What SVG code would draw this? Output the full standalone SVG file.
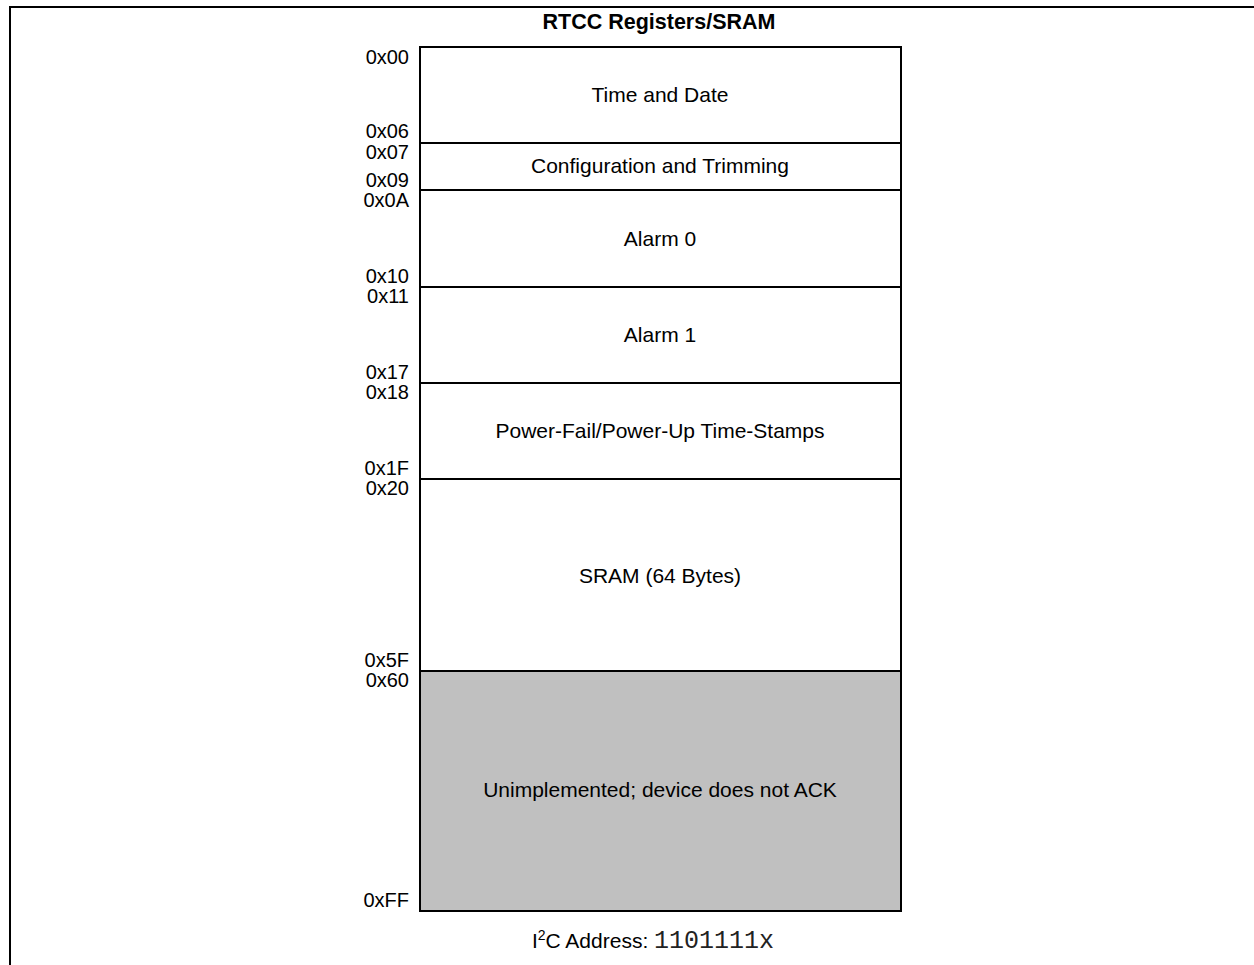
<svg xmlns="http://www.w3.org/2000/svg" width="1254" height="965" viewBox="0 0 1254 965">
<style>
.frame{stroke:#000;stroke-width:2;fill:none}
.blk{stroke:#000;stroke-width:2;fill:#fff}
.gray{fill:#c0c0c0}
.lbl{font-family:"Liberation Sans",Arial,sans-serif;font-size:20px;fill:#000;text-anchor:end}
.txt{font-family:"Liberation Sans",Arial,sans-serif;font-size:21px;fill:#000;text-anchor:middle}
.title{font-family:"Liberation Sans",Arial,sans-serif;font-size:21.5px;font-weight:bold;fill:#000;text-anchor:middle}
.mono{font-family:"Liberation Mono","Courier New",monospace;font-size:25px}
</style>
<rect width="1254" height="965" fill="#fff"/>
<g id="frame">
<path class="frame" d="M10,965 V7 H1254"/>
</g>
<text class="title" x="659" y="29">RTCC Registers/SRAM</text>
<g id="time-date">
<rect class="blk" x="420" y="47" width="481" height="96"/>
<text class="txt" x="660" y="102">Time and Date</text>
<text class="lbl" x="409" y="64">0x00</text>
<text class="lbl" x="409" y="138">0x06</text>
</g>
<g id="config">
<rect class="blk" x="420" y="143" width="481" height="47"/>
<text class="txt" x="660" y="173">Configuration and Trimming</text>
<text class="lbl" x="409" y="159">0x07</text>
<text class="lbl" x="409" y="187">0x09</text>
</g>
<g id="alarm0">
<rect class="blk" x="420" y="190" width="481" height="97"/>
<text class="txt" x="660" y="246">Alarm 0</text>
<text class="lbl" x="409" y="207">0x0A</text>
<text class="lbl" x="409" y="283">0x10</text>
</g>
<g id="alarm1">
<rect class="blk" x="420" y="287" width="481" height="96"/>
<text class="txt" x="660" y="342">Alarm 1</text>
<text class="lbl" x="409" y="303">0x11</text>
<text class="lbl" x="409" y="379">0x17</text>
</g>
<g id="timestamps">
<rect class="blk" x="420" y="383" width="481" height="96"/>
<text class="txt" x="660" y="438">Power-Fail/Power-Up Time-Stamps</text>
<text class="lbl" x="409" y="399">0x18</text>
<text class="lbl" x="409" y="475">0x1F</text>
</g>
<g id="sram">
<rect class="blk" x="420" y="479" width="481" height="192"/>
<text class="txt" x="660" y="583">SRAM (64 Bytes)</text>
<text class="lbl" x="409" y="495">0x20</text>
<text class="lbl" x="409" y="667">0x5F</text>
</g>
<g id="unimplemented">
<rect class="blk gray" x="420" y="671" width="481" height="240"/>
<text class="txt" x="660" y="797">Unimplemented; device does not ACK</text>
<text class="lbl" x="409" y="687">0x60</text>
<text class="lbl" x="409" y="907">0xFF</text>
</g>
<g id="connectors"></g>
<text class="txt" x="653" y="948">I<tspan font-size="14" dy="-8">2</tspan><tspan dy="8">C Address: </tspan><tspan class="mono" fill="#222">1101111x</tspan></text>
</svg>
